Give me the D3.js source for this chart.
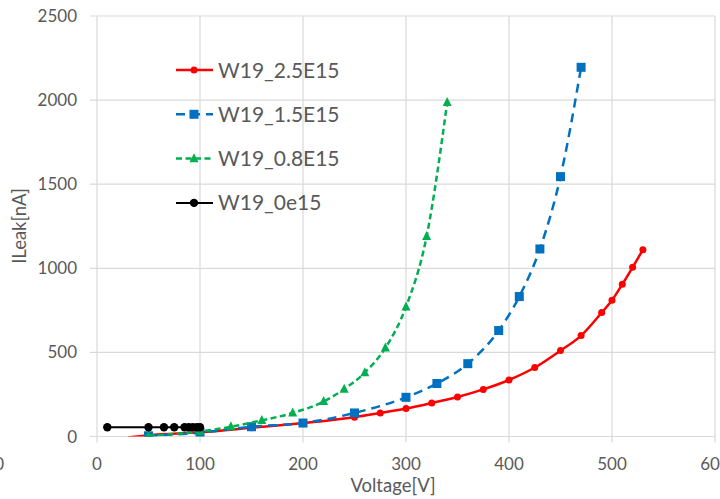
<!DOCTYPE html>
<html>
<head>
<meta charset="utf-8">
<script src="https://cdn.jsdelivr.net/npm/d3@7"></script>
<style>
  body { margin: 0; background: #fff; overflow: hidden; }
  text { font-family: Lato, "Open Sans", sans-serif; fill: #595959; }
</style>
</head>
<body>
<script>
// Dati
const serieNomi = ["W19_2.5E15", "W19_1.5E15", "W19_0.8E15", "W19_0e15"];

const voltRosso = [30, 50, 100, 150, 200, 250, 275, 300, 325, 350, 375, 400, 425, 450, 470, 490, 500, 510, 520, 530];
const ileakRosso = [-6, 8, 25, 52, 80, 115, 140, 166, 199, 235, 280, 336, 410, 511, 600, 737, 810, 905, 1006, 1110];

const voltBlu = [50, 100, 150, 200, 250, 300, 330, 360, 390, 410, 430, 450, 470];
const ileakBlu = [4, 23, 58, 80, 140, 233, 315, 433, 630, 832, 1115, 1545, 2195];

const voltVerde = [50, 100, 130, 160, 190, 220, 240, 260, 280, 300, 320, 340];
const ileakVerde = [4, 30, 58, 96, 140, 208, 282, 380, 527, 771, 1189, 1986];

const voltNero = [10, 50, 65, 75, 85, 89, 93, 97, 100];
const ileakNero = [55, 55, 55, 55, 55, 55, 55, 55, 55];

const xTicks = [0, 100, 200, 300, 400, 500, 600];
const yTicks = [0, 500, 1000, 1500, 2000, 2500];

const width = 720;
const height = 499;
const marginLeft = 97;
const marginRight = 5;
const marginTop = 16;
const plotBottom = 436.5;

const svg = d3.create("svg")
.attr("width", width)
.attr("height", height);

const xScale = d3.scaleLinear()
.domain([0, 600])
.range([marginLeft, width - marginRight]);

const yScale = d3.scaleLinear()
.domain([0, 2500])
.range([plotBottom, marginTop]);

// Griglia verticale + tick
svg.append("g")
.selectAll("line")
.data(xTicks)
.join("line")
.attr("x1", d => xScale(d))
.attr("x2", d => xScale(d))
.attr("y1", marginTop)
.attr("y2", plotBottom + 6)
.attr("stroke", "#d9d9d9")
.attr("stroke-width", 1.2);

// Griglia orizzontale + tick
svg.append("g")
.selectAll("line")
.data(yTicks)
.join("line")
.attr("x1", marginLeft - 7)
.attr("x2", xScale(600))
.attr("y1", d => yScale(d))
.attr("y2", d => yScale(d))
.attr("stroke", "#d9d9d9")
.attr("stroke-width", 1.2);

// Etichette asse x
svg.append("g")
.selectAll("text")
.data(xTicks)
.join("text")
.attr("x", d => xScale(d))
.attr("y", 470)
.attr("text-anchor", "middle")
.attr("font-size", 17)
.text(d => d);

// resto dell'etichetta del grafico accanto (tagliato)
svg.append("text")
.attr("x", 4)
.attr("y", 470)
.attr("text-anchor", "end")
.attr("font-size", 17)
.text("600");

// Etichette asse y
svg.append("g")
.selectAll("text")
.data(yTicks)
.join("text")
.attr("x", 77)
.attr("y", d => yScale(d) + 6)
.attr("text-anchor", "end")
.attr("font-size", 17)
.text(d => d);

// Titoli assi
svg.append("text")
.attr("x", 393)
.attr("y", 492)
.attr("text-anchor", "middle")
.attr("font-size", 18.5)
.text("Voltage[V]");

svg.append("text")
.attr("transform", "translate(26, 226) rotate(-90)")
.attr("text-anchor", "middle")
.attr("font-size", 18.5)
.text("ILeak[nA]");

// Clip dell'area del grafico
svg.append("clipPath")
.attr("id", "clip")
.append("rect")
.attr("x", marginLeft)
.attr("y", marginTop - 10)
.attr("width", xScale(600) - marginLeft)
.attr("height", plotBottom - marginTop + 10);

const serie = [
  { nome: serieNomi[0], x: voltRosso, y: ileakRosso, colore: "#ff0000", dash: null, marker: "circle", size: 3.5, sw: 2.5 },
  { nome: serieNomi[1], x: voltBlu, y: ileakBlu, colore: "#0070c0", dash: "9,6", marker: "square", size: 9, sw: 2.5 },
  { nome: serieNomi[2], x: voltVerde, y: ileakVerde, colore: "#00b050", dash: "6,3.5", marker: "triangle", size: 9, sw: 2.5 },
  { nome: serieNomi[3], x: voltNero, y: ileakNero, colore: "#000000", dash: null, marker: "circle", size: 4.2, sw: 2 }
];

const linea = d3.line()
.x(d => xScale(d[0]))
.y(d => yScale(d[1]))
.curve(d3.curveMonotoneX);

function disegnaMarker(g, s, cx, cy) {
  if (s.marker === "circle") {
    g.append("circle").attr("cx", cx).attr("cy", cy).attr("r", s.size).attr("fill", s.colore);
  } else if (s.marker === "square") {
    g.append("rect").attr("x", cx - s.size / 2).attr("y", cy - s.size / 2)
      .attr("width", s.size).attr("height", s.size).attr("fill", s.colore);
  } else {
    const h = s.size;
    g.append("path")
      .attr("d", `M${cx},${cy - h * 0.6}L${cx + h / 2},${cy + h * 0.4}L${cx - h / 2},${cy + h * 0.4}Z`)
      .attr("fill", s.colore);
  }
}

const plot = svg.append("g").attr("clip-path", "url(#clip)");

serie.forEach(s => {
  const punti = s.x.map((v, i) => [v, s.y[i]]);
  plot.append("path")
  .datum(punti)
  .attr("d", linea)
  .attr("fill", "none")
  .attr("stroke", s.colore)
  .attr("stroke-width", s.sw)
  .attr("stroke-dasharray", s.dash);

  // i punti sotto lo zero restano fuori dal grafico
  const gm = plot.append("g");
  punti.filter(p => p[1] >= 0)
  .forEach(p => disegnaMarker(gm, s, xScale(p[0]), yScale(p[1])));
});

// Legenda
const legenda = svg.append("g");
serie.forEach((s, i) => {
  const y = 70 + i * 44.3;
  legenda.append("line")
  .attr("x1", 176).attr("x2", 213)
  .attr("y1", y).attr("y2", y)
  .attr("stroke", s.colore)
  .attr("stroke-width", s.sw)
  .attr("stroke-dasharray", s.dash);
  disegnaMarker(legenda, s, 194, y);
  legenda.append("text")
  .attr("x", 218)
  .attr("y", y + 7.5)
  .attr("font-size", 21)
  .text(s.nome);
});

document.body.appendChild(svg.node());
</script>
</body>
</html>
